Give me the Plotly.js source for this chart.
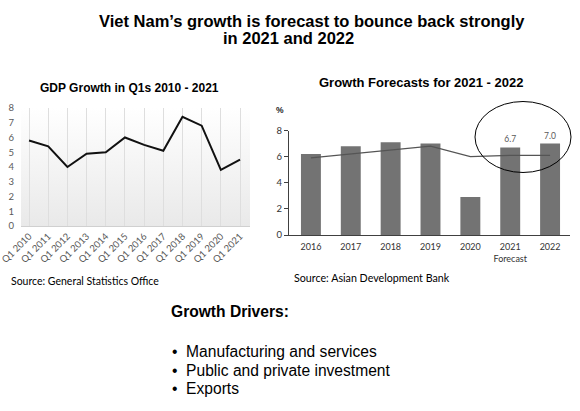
<!DOCTYPE html>
<html>
<head>
<meta charset="utf-8">
<script src="https://cdn.plot.ly/plotly-3.0.1.min.js"></script>
<style>html,body{margin:0;padding:0;background:#fff;}#chart{width:580px;height:411px;}</style>
</head>
<body>
<div id="chart"></div>
<script>
// ---- data ----
const gdpQuarters = ["Q1 2010","Q1 2011","Q1 2012","Q1 2013","Q1 2014","Q1 2015","Q1 2016","Q1 2017","Q1 2018","Q1 2019","Q1 2020","Q1 2021"];
const gdpGrowth   = [5.8, 5.4, 4.0, 4.9, 5.0, 6.0, 5.5, 5.1, 7.4, 6.8, 3.8, 4.5];

const fcYears      = ["2016","2017","2018","2019","2020","2021","2022"];
const fcYearLabels = ["2016","2017","2018","2019","2020","2021<br>Forecast","2022"];
const fcGrowth     = [6.2, 6.8, 7.1, 7.0, 2.9, 6.7, 7.0];
const fcTrend      = [5.9, 6.2, 6.5, 6.8, 6.0, 6.1, 6.1];
const fcLabelled   = ["2021","2022"];

const leftYTicks  = [0,1,2,3,4,5,6,7,8];
const rightYTicks = [0,2,4,6,8];

const bulletItems = ["Manufacturing and services","Public and private investment","Exports"];

// ---- helpers ----
const W = 580, H = 411;
const px = x => x / W;
const py = y => 1 - y / H;
const BODY = "Lato, 'Open Sans', sans-serif";
const ARIAL = "'Liberation Sans', Arial, sans-serif";

const gradSvg = '<svg xmlns="http://www.w3.org/2000/svg" width="10" height="100" preserveAspectRatio="none">' +
  '<defs><linearGradient id="g" x1="0" y1="0" x2="0" y2="1">' +
  '<stop offset="0" stop-color="#ffffff"/><stop offset="1" stop-color="#e9e9e9"/></linearGradient></defs>' +
  '<rect width="10" height="100" fill="url(#g)"/></svg>';
const gradUri = "data:image/svg+xml;charset=utf-8," + encodeURIComponent(gradSvg);

const traces = [
  {
    type: "scatter", mode: "lines",
    x: gdpQuarters, y: gdpGrowth,
    xaxis: "x", yaxis: "y",
    line: {color: "#111111", width: 2},
    hoverinfo: "skip", showlegend: false
  },
  {
    type: "bar",
    x: fcYears, y: fcGrowth,
    xaxis: "x2", yaxis: "y2",
    marker: {color: "#737373"},
    text: fcYears.map((yr, i) => fcLabelled.includes(yr) ? fcGrowth[i].toFixed(1) : ""),
    textposition: "outside",
    textfont: {family: BODY, size: 8.5, color: "#595959"},
    cliponaxis: false,
    hoverinfo: "skip", showlegend: false
  },
  {
    type: "scatter", mode: "lines",
    x: fcYears, y: fcTrend,
    xaxis: "x2", yaxis: "y2",
    line: {color: "#555555", width: 1.2},
    hoverinfo: "skip", showlegend: false
  }
];

const ann = (text, x, y, size, opts = {}) => Object.assign({
  text, x: px(x), y: py(y), xref: "paper", yref: "paper",
  showarrow: false, xanchor: "left", yanchor: "middle",
  font: {family: ARIAL, size, color: "#000"}
}, opts);

const annotations = [
  ann("<b>Viet Nam’s growth is forecast to bounce back strongly</b>", 97, 21, 16.5),
  ann("<b>in 2021 and 2022</b>", 221, 38.5, 16.5),
  ann("<b>GDP Growth in Q1s 2010 - 2021</b>", 38, 88, 12),
  ann("<b>Growth Forecasts for 2021 - 2022</b>", 317, 83, 13),
  ann("<b>%</b>", 274, 110, 8.5, {font: {family: ARIAL, size: 8.5, color: "#222"}}),
  ann("Source: General Statistics Office", 9, 281, 10.5, {font: {family: BODY, size: 10.5, color: "#000"}}),
  ann("Source: Asian Development Bank", 292, 277, 10.7, {font: {family: BODY, size: 10.7, color: "#000"}}),
  ann("<b>Growth Drivers:</b>", 169, 311, 15.6)
];
const bulletY = [351, 370, 388];
bulletItems.forEach((t, i) => annotations.push(ann("•  " + t, 170, bulletY[i], 15.6)));

const layout = {
  width: W, height: H,
  margin: {l: 0, r: 0, t: 0, b: 0},
  paper_bgcolor: "#ffffff",
  plot_bgcolor: "rgba(0,0,0,0)",
  showlegend: false,
  bargap: 0.5,
  xaxis: {
    domain: [px(21), px(250)],
    type: "category",
    range: [-0.42, 11.52],
    tickangle: -45,
    tickfont: {family: BODY, size: 9.5, color: "#595959"},
    showgrid: true, gridcolor: "#dedede", gridwidth: 1,
    showline: true, linecolor: "#d0d0d0", linewidth: 1,
    ticks: "", fixedrange: true, zeroline: false
  },
  yaxis: {
    domain: [py(226), py(108)],
    range: [0, 8],
    tickvals: leftYTicks,
    tickfont: {family: BODY, size: 9.5, color: "#595959"},
    showgrid: false, zeroline: false, showline: false,
    ticks: "", ticklabelstandoff: 6, fixedrange: true
  },
  xaxis2: {
    domain: [px(289), px(570)],
    type: "category",
    range: [-0.55, 6.5],
    tickvals: fcYears, ticktext: fcYearLabels,
    tickfont: {family: BODY, size: 9, color: "#333333"},
    showgrid: false, zeroline: false,
    showline: true, linecolor: "#404040", linewidth: 1,
    ticks: "", ticklabelstandoff: 3, anchor: "y2", fixedrange: true
  },
  yaxis2: {
    domain: [py(235), py(130.5)],
    range: [0, 8],
    tickvals: rightYTicks,
    tickfont: {family: BODY, size: 9.5, color: "#333333"},
    showgrid: false, zeroline: false,
    showline: true, linecolor: "#404040", linewidth: 1,
    ticks: "outside", ticklen: 4, tickcolor: "#404040",
    anchor: "x2", fixedrange: true
  },
  images: [{
    source: gradUri, xref: "paper", yref: "paper",
    x: px(21), y: py(108), sizex: px(250) - px(21), sizey: py(108) - py(226),
    xanchor: "left", yanchor: "top", sizing: "stretch", layer: "below"
  }],
  shapes: [{
    type: "circle", xref: "paper", yref: "paper",
    x0: px(475), x1: px(571), y0: py(172.5), y1: py(101.5),
    line: {color: "#000000", width: 1}
  }],
  annotations
};

Plotly.newPlot("chart", traces, layout, {displayModeBar: false, staticPlot: true});
</script>
</body>
</html>
